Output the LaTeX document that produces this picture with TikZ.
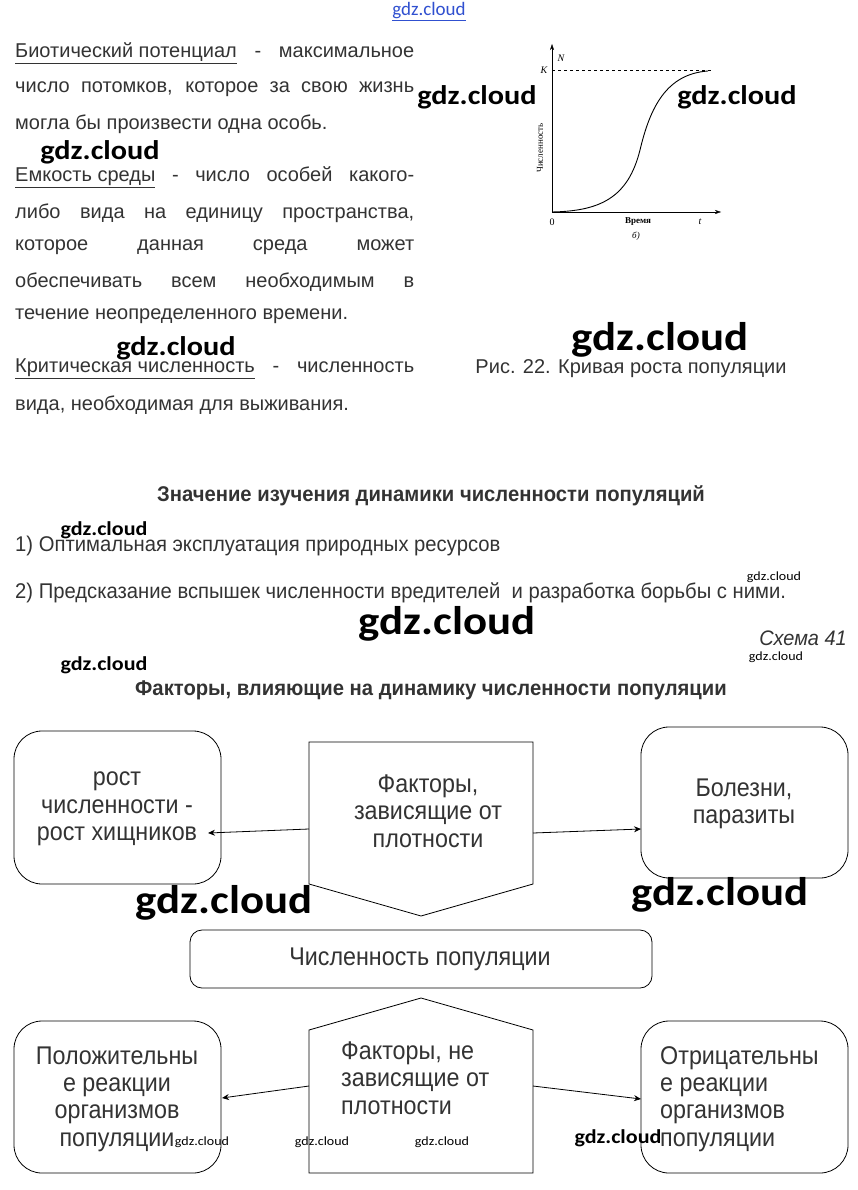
\documentclass[tikz,border=0pt]{standalone}
\usepackage{fontspec}
\setmainfont{Liberation Sans}
\newfontfamily\nar[FakeStretch=0.95]{Liberation Sans}
\newfontfamily\boxf[FakeStretch=0.91]{Liberation Sans}
\newfontfamily\wm[FakeStretch=1.12]{Carlito}
\newfontfamily\wmplain{Carlito}
\newfontfamily\ser{Liberation Serif}
\usetikzlibrary{arrows.meta}
\definecolor{txt}{HTML}{333333}
\definecolor{wmblue}{HTML}{3050D0}
\tikzset{
  body/.style={anchor=west, inner sep=0pt, text=txt, font=\fontsize{20}{20}\selectfont},
  narrowtext/.style={anchor=west, inner sep=0pt, text=txt, font=\nar\fontsize{21.3}{21.3}\selectfont},
  heading/.style={inner sep=0pt, text=txt, font=\nar\bfseries\fontsize{21.3}{21.3}\selectfont},
  wmL/.style={inner sep=0pt, font=\wm\bfseries\fontsize{40}{40}\selectfont},
  wmM/.style={inner sep=0pt, font=\wm\bfseries\fontsize{27}{27}\selectfont},
  wmS/.style={inner sep=0pt, font=\wm\bfseries\fontsize{19.7}{19.7}\selectfont},
  wmT/.style={inner sep=0pt, font=\wm\fontsize{12.5}{12.5}\selectfont},
  boxtext/.style={text=txt, inner sep=0pt, font=\boxf\fontsize{25.6}{27.3}\selectfont, align=center},
  rbox/.style={draw, thick, rounded corners=28pt},
  arr/.style={-{Stealth[length=7pt,width=6pt]}, thick},
  glab/.style={inner sep=0pt, font=\ser\fontsize{10}{10}\selectfont},
}
\begin{document}
\begin{tikzpicture}[x=1pt,y=-1pt]
\useasboundingbox[fill=white] (0,0) rectangle (858,1190);

% top watermark
\node[inner sep=0pt, text=wmblue, font=\wmplain\fontsize{19}{19}\selectfont] (wtop) at (429,12) {\underline{gdz.cloud}};

% definitions
\node[body] (l1) at (15,53) {\makebox[399pt][s]{\underline{Биотический потенциал} - максимальное}};
\node[body] (l2) at (15,89) {\makebox[399pt][s]{число потомков, которое за свою жизнь}};
\node[body] (l3) at (15,124) {могла бы произвести одна особь.};
\node[body] (l4) at (15,177) {\makebox[399pt][s]{\underline{Емкость среды} - число особей какого-}};
\node[body] (l5) at (15,213) {\makebox[399pt][s]{либо вида на единицу пространства,}};
\node[body] (l6) at (15,247) {\makebox[399pt][s]{которое данная среда может}};
\node[body] (l7) at (15,282) {\makebox[399pt][s]{обеспечивать всем необходимым в}};
\node[body] (l8) at (15,316) {течение неопределенного времени.};
\node[body] (l9) at (15,369) {\makebox[399pt][s]{\underline{Критическая численность} - численность}};
\node[body] (l10) at (15,405) {вида, необходимая для выживания.};

% graph
\coordinate (o) at (552,212);
\coordinate (ytop) at (552,44);
\coordinate (xend) at (721,212);
\coordinate (kend) at (712,70);
\coordinate (k0) at (552,70);
\draw[-{Stealth[length=6pt,width=4pt]}] (o) -- (ytop);
\draw[-{Stealth[length=6pt,width=4pt]}] (o) -- (xend);
\draw[dashed] (k0) -- (kend);
\draw[line width=0.9pt] (o) .. controls (600,211) and (628,198) .. (640,150)
   .. controls (650,108) and (666,74) .. (708,71);
\node[glab, font=\ser\itshape\fontsize{10}{10}\selectfont] (gN) at (561,58) {N};
\node[glab, font=\ser\itshape\fontsize{10}{10}\selectfont] (gK) at (544,70) {K};
\node[glab] (g0) at (552,222) {0};
\node[glab, font=\ser\bfseries\fontsize{9}{9}\selectfont] (gT) at (638,222) {Время};
\node[glab, font=\ser\itshape\fontsize{10}{10}\selectfont] (gt) at (700,222) {t};
\node[glab, font=\ser\itshape\fontsize{9}{9}\selectfont] (gb) at (636,236) {б)};
\node[glab, rotate=90, font=\ser\fontsize{9}{9}\selectfont] (gy) at (540,148) {Численность};

\node[inner sep=0pt, text=txt, font=\fontsize{20}{20}\selectfont] (cap) at (631,369) {Рис. 22. Кривая роста популяции};

% section 2
\node[heading] (h1) at (431,496) {Значение изучения динамики численности популяций};
\node[narrowtext] (i1) at (15,546) {1) Оптимальная эксплуатация природных ресурсов};
\node[narrowtext] (i2) at (15,593) {2) Предсказание вспышек численности вредителей\ \ и разработка борьбы с ними.};
\node[anchor=east, inner sep=0pt, text=txt, font=\nar\itshape\fontsize{21}{21}\selectfont] (sch) at (847,638) {Схема 41};
\node[heading] (h2) at (431,690) {Факторы, влияющие на динамику численности популяции};

% diagram
\draw[rbox] (14,731) rectangle (221,884);
\node[boxtext] (A) at (117,809) {рост\\численности -\\рост хищников};
\draw[thick] (309,742) -- (533,742) -- (533,884) -- (421,916) -- (309,884) -- cycle;
\node[boxtext] (P1) at (428,811) {Факторы,\\зависящие от\\плотности};
\draw[rbox] (641,727) rectangle (848,878);
\node[boxtext] (B) at (744,804) {Болезни,\\паразиты};
\coordinate (p1l) at (309,829);
\coordinate (p1r) at (533,833);
\coordinate (aA) at (208,833);
\coordinate (aB) at (641,829);
\draw[arr] (p1l) -- (aA);
\draw[arr] (p1r) -- (aB);

\draw[thick, rounded corners=12pt] (190,930) rectangle (652,988);
\node[boxtext] (N) at (420,959) {Численность популяции};

\draw[thick] (309,1173) -- (309,1030) -- (421,998) -- (533,1030) -- (533,1173) -- cycle;
\node[boxtext, align=left, anchor=west] (P2) at (341,1078) {Факторы, не\\зависящие от\\плотности};
\draw[rbox] (14,1021) rectangle (221,1173);
\node[boxtext] (C) at (117,1099) {Положительны\\е реакции\\организмов\\популяции};
\draw[rbox] (641,1021) rectangle (848,1173);
\node[boxtext, align=left, anchor=west] (D) at (660,1099) {Отрицательны\\е реакции\\организмов\\популяции};
\coordinate (p2l) at (309,1086);
\coordinate (p2r) at (533,1086);
\coordinate (aC) at (222,1098);
\coordinate (aD) at (641,1099);
\draw[arr] (p2l) -- (aC);
\draw[arr] (p2r) -- (aD);

% watermarks
\node[wmM] (w1) at (477,97) {gdz.cloud};
\node[wmM] (w2) at (737,97) {gdz.cloud};
\node[wmM] (w3) at (100,152) {gdz.cloud};
\node[wmM] (w4) at (176,348) {gdz.cloud};
\node[wmL] (w5) at (660,340) {gdz.cloud};
\node[wmS] (w6) at (104,530) {gdz.cloud};
\node[wmT] (w7) at (774,577) {gdz.cloud};
\node[wmL] (w8) at (447,624) {gdz.cloud};
\node[wmT] (w9) at (776,657) {gdz.cloud};
\node[wmS] (w10) at (104,665) {gdz.cloud};
\node[wmL] (w11) at (224,903) {gdz.cloud};
\node[wmL] (w12) at (720,895) {gdz.cloud};
\node[wmT] (w13) at (202,1142) {gdz.cloud};
\node[wmT] (w14) at (322,1142) {gdz.cloud};
\node[wmT] (w15) at (442,1142) {gdz.cloud};
\node[wmS] (w16) at (618,1138) {gdz.cloud};
\end{tikzpicture}
\end{document}
